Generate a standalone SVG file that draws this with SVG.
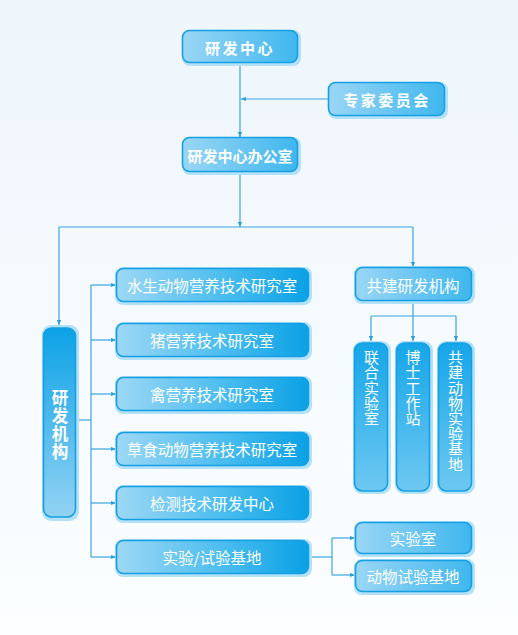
<svg xmlns="http://www.w3.org/2000/svg" width="518" height="635" viewBox="0 0 518 635">
<defs>
<linearGradient id="bg" x1="0" y1="0" x2="0" y2="1"><stop offset="0" stop-color="#eef6fc"/><stop offset="1" stop-color="#fcfeff"/></linearGradient>
<linearGradient id="gh" x1="0" y1="0" x2="1" y2="0"><stop offset="0" stop-color="#9dd8f5"/><stop offset="0.55" stop-color="#4cbdef"/><stop offset="1" stop-color="#0aa1e6"/></linearGradient>
<linearGradient id="gt" x1="0" y1="0" x2="1" y2="0"><stop offset="0" stop-color="#9ad6f5"/><stop offset="1" stop-color="#3fb7ee"/></linearGradient>
<linearGradient id="gv" x1="0" y1="0" x2="0" y2="1"><stop offset="0" stop-color="#0ca2e7"/><stop offset="1" stop-color="#93d2f3"/></linearGradient>
<linearGradient id="gv2" x1="0" y1="0" x2="0" y2="1"><stop offset="0" stop-color="#16a6e9"/><stop offset="1" stop-color="#6ec8f1"/></linearGradient>
<marker id="ar" viewBox="0 0 6 6" refX="6" refY="3" markerWidth="5" markerHeight="5" orient="auto" markerUnits="userSpaceOnUse"><path d="M0,0.5 L6,3 L0,5.5 Z" fill="#2b9fdc"/></marker>
<style>
.halo{fill:#b3e1f8}
.bx{stroke:#16a0e3;stroke-width:1.6}
.h{fill:url(#gh)}
.t{fill:url(#gt)}
.v{fill:url(#gv)}
.v2{fill:url(#gv2)}
text{fill:#ffffff;font-family:"Noto Sans CJK SC","Noto Sans",sans-serif;text-anchor:middle;dominant-baseline:central}
.b{font-weight:bold;font-size:15px}
.n{font-size:15.5px}
.vt{font-size:15px;writing-mode:vertical-rl;text-anchor:start;letter-spacing:0.2px}
.vb{font-size:16.5px;font-weight:bold;writing-mode:vertical-rl;text-anchor:start;letter-spacing:1.8px}
.c line,.c polyline{stroke:#3aa6e0;stroke-width:1.2;fill:none}
</style>
</defs>
<rect width="518" height="635" fill="url(#bg)"/>
<g class="c" id="connectors">
<line x1="240" y1="64" x2="240" y2="137" marker-end="url(#ar)"/>
<line x1="328" y1="99" x2="241" y2="99" marker-end="url(#ar)"/>
<line x1="240" y1="173" x2="240" y2="227" marker-end="url(#ar)"/>
<polyline points="59,227 413,227"/>
<line x1="59" y1="227" x2="59" y2="325" marker-end="url(#ar)"/>
<line x1="413" y1="227" x2="413" y2="267" marker-end="url(#ar)"/>
<line x1="77" y1="420" x2="91" y2="420"/>
<line x1="91" y1="285" x2="91" y2="557"/>
<line x1="91" y1="285" x2="116" y2="285" marker-end="url(#ar)"/>
<line x1="91" y1="340" x2="116" y2="340" marker-end="url(#ar)"/>
<line x1="91" y1="394" x2="116" y2="394" marker-end="url(#ar)"/>
<line x1="91" y1="449" x2="116" y2="449" marker-end="url(#ar)"/>
<line x1="91" y1="503" x2="116" y2="503" marker-end="url(#ar)"/>
<line x1="91" y1="557" x2="116" y2="557" marker-end="url(#ar)"/>
<line x1="413" y1="302" x2="413" y2="341" marker-end="url(#ar)"/>
<polyline points="371,316 456,316"/>
<line x1="371" y1="316" x2="371" y2="341" marker-end="url(#ar)"/>
<line x1="456" y1="316" x2="456" y2="341" marker-end="url(#ar)"/>
<line x1="309" y1="557" x2="332" y2="557"/>
<line x1="332" y1="538" x2="332" y2="575"/>
<line x1="332" y1="538" x2="355" y2="538" marker-end="url(#ar)"/>
<line x1="332" y1="575" x2="355" y2="575" marker-end="url(#ar)"/>
</g>
<g id="n1"><rect class="halo" x="182" y="30" width="119" height="36" rx="8"/><rect class="bx t" x="182.5" y="30.5" width="115" height="32" rx="7"/><text class="b" x="240" y="47" letter-spacing="2.5">研发中心</text></g>
<g id="n2"><rect class="halo" x="328" y="82" width="120" height="37" rx="8"/><rect class="bx t" x="328.5" y="82.5" width="116" height="33" rx="7"/><text class="b" x="387" y="99.5" letter-spacing="2.5">专家委员会</text></g>
<g id="n3"><rect class="halo" x="182" y="137" width="119" height="38" rx="8"/><rect class="bx t" x="182.5" y="137.5" width="115" height="34" rx="7"/><text class="b" x="240" y="155">研发中心办公室</text></g>
<g id="n4"><rect class="halo" x="42" y="325" width="37" height="196" rx="9"/><rect class="bx v" x="43.5" y="328" width="32" height="189" rx="8"/><text class="vb" x="60" y="389">研发机构</text></g>
<g id="n5"><rect class="halo" x="115" y="267" width="197" height="38" rx="8"/><rect class="bx h" x="116.5" y="268.5" width="192" height="33" rx="7"/><text class="n" x="212" y="285">水生动物营养技术研究室</text></g>
<g id="n6"><rect class="halo" x="115" y="322" width="197" height="38" rx="8"/><rect class="bx h" x="116.5" y="323.5" width="192" height="33" rx="7"/><text class="n" x="212" y="340">猪营养技术研究室</text></g>
<g id="n7"><rect class="halo" x="115" y="376" width="197" height="38" rx="8"/><rect class="bx h" x="116.5" y="377.5" width="192" height="33" rx="7"/><text class="n" x="212" y="394">禽营养技术研究室</text></g>
<g id="n8"><rect class="halo" x="115" y="431" width="197" height="38" rx="8"/><rect class="bx h" x="116.5" y="432.5" width="192" height="33" rx="7"/><text class="n" x="212" y="449">草食动物营养技术研究室</text></g>
<g id="n9"><rect class="halo" x="115" y="485" width="197" height="38" rx="8"/><rect class="bx h" x="116.5" y="486.5" width="192" height="33" rx="7"/><text class="n" x="212" y="503">检测技术研发中心</text></g>
<g id="n10"><rect class="halo" x="115" y="539" width="197" height="38" rx="8"/><rect class="bx h" x="116.5" y="540.5" width="192" height="33" rx="7"/><text class="n" x="212" y="557">实验/试验基地</text></g>
<g id="n11"><rect class="halo" x="354" y="266" width="121" height="38" rx="8"/><rect class="bx t" x="355.5" y="267.5" width="116" height="33" rx="7"/><text class="n" x="413" y="284.5">共建研发机构</text></g>
<g id="n12"><rect class="halo" x="353" y="341" width="38" height="153" rx="9"/><rect class="bx v2" x="354.5" y="343" width="33" height="148" rx="8"/><text class="vt" x="371.5" y="350">联合实验室</text></g>
<g id="n13"><rect class="halo" x="395" y="341" width="38" height="153" rx="9"/><rect class="bx v2" x="396.5" y="343" width="33" height="148" rx="8"/><text class="vt" x="413" y="350">博士工作站</text></g>
<g id="n14"><rect class="halo" x="437" y="341" width="38" height="153" rx="9"/><rect class="bx v2" x="438.5" y="343" width="33" height="148" rx="8"/><text class="vt" x="455.5" y="350">共建动物实验基地</text></g>
<g id="n15"><rect class="halo" x="354" y="521" width="121" height="36" rx="8"/><rect class="bx t" x="355.5" y="522.5" width="116" height="31" rx="7"/><text class="n" x="413" y="538">实验室</text></g>
<g id="n16"><rect class="halo" x="354" y="559" width="121" height="36" rx="8"/><rect class="bx t" x="355.5" y="560.5" width="116" height="31" rx="7"/><text class="n" x="413" y="576">动物试验基地</text></g>
</svg>
